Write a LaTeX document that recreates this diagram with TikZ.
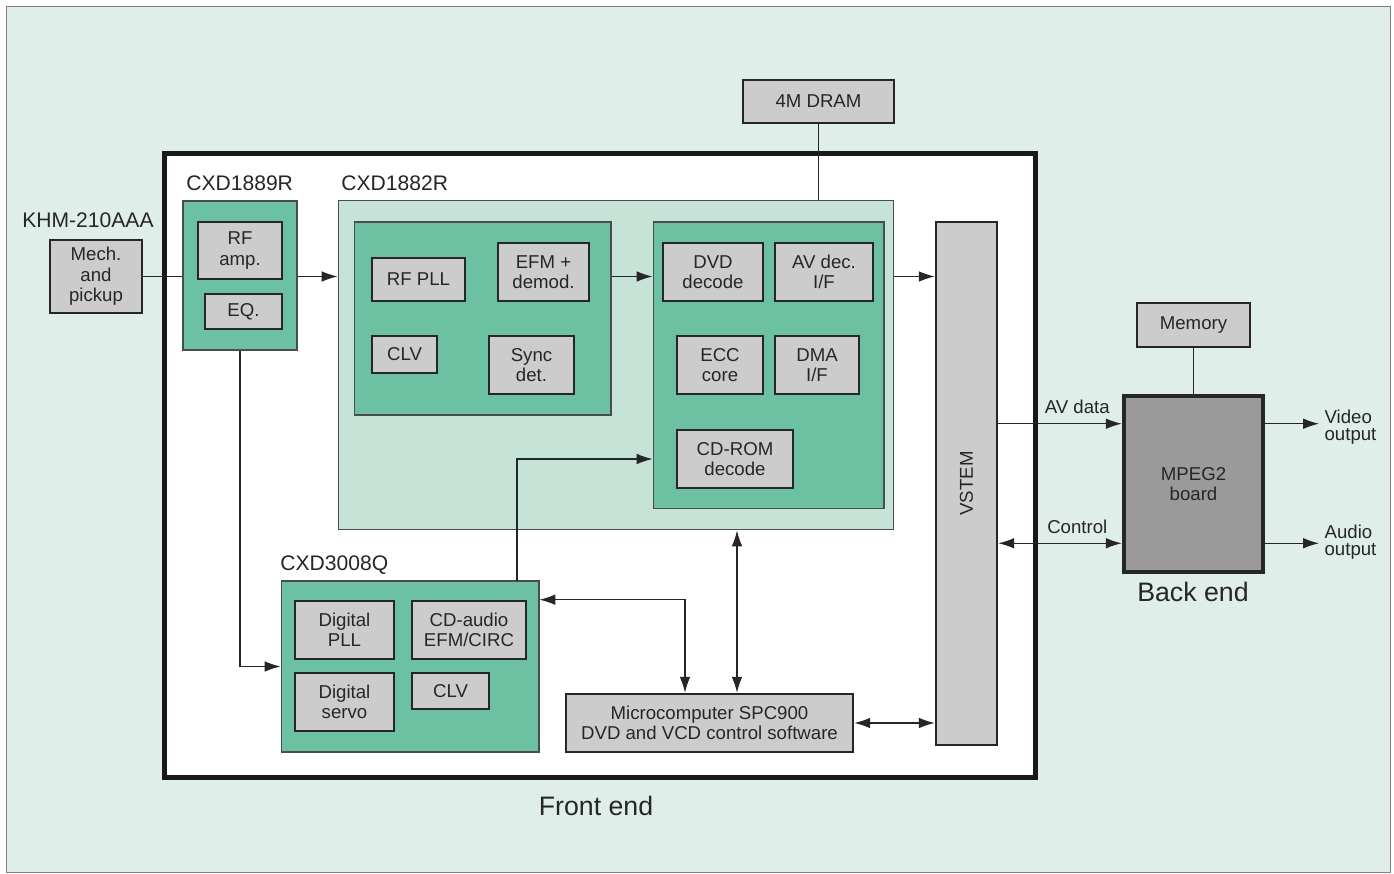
\documentclass[tikz,border=0pt]{standalone}
\usepackage{fontspec}
\setmainfont{Liberation Sans}
\usetikzlibrary{arrows.meta}
\definecolor{backdrop}{HTML}{E0EEE9}
\definecolor{chipgreen}{HTML}{6BC1A1}
\definecolor{dspgreen}{HTML}{C5E3D7}
\definecolor{boxgray}{HTML}{CCCCCC}
\definecolor{boardgray}{HTML}{9A9A9A}
\tikzset{
    gray-box/.style = {draw=black!85, fill=boxgray, line width=1.5pt, rectangle, align=center, inner sep=2pt, text=black!85, font=\fontsize{10.6}{11.6}\selectfont},
    chip-box/.style = {draw=black!70, fill=chipgreen, line width=0.6pt, rectangle},
    chip-title/.style = {anchor=west, inner sep=0pt, text=black!85, font=\fontsize{12}{14}\selectfont},
    big-title/.style = {text=black!85, font=\fontsize{15.2}{18}\selectfont},
    side-label/.style = {text=black!85, font=\fontsize{10.6}{10}\selectfont},
    link/.style = {draw=black!85, line width=0.6pt},
    arr/.style = {link, -{Latex[length=9pt,width=6pt]}},
    dbl/.style = {link, {Latex[length=9pt,width=6pt]}-{Latex[length=9pt,width=6pt]}},
}

\begin{document}
\begin{tikzpicture}[x=0.02cm, y=-0.02cm]
\useasboundingbox (0,0) rectangle (1394,874);
\draw[black!50, fill=backdrop, line width=0.5pt] (6,6) rectangle (1390,872);

% front end frame
\node[draw=black!90, fill=white, line width=2.8pt, minimum width=17.44cm, minimum height=12.5cm] (front) at (600,465.5) {};
\node[big-title] (frontlbl) at (596,806) {Front end};

% pickup
\node[chip-title] (khm) at (22,220) {KHM-210AAA};
\node[gray-box, minimum width=1.84cm, minimum height=1.46cm] (mech) at (96,276.5) {Mech.\\and\\pickup};

% CXD1889R
\node[chip-title] (cxd1889lbl) at (186,183) {CXD1889R};
\node[chip-box, minimum width=2.28cm, minimum height=2.98cm] (cxd1889) at (240,275.5) {};
\node[gray-box, minimum width=1.68cm, minimum height=1.14cm] (rfamp) at (240,250.5) {RF\\amp.};
\node[gray-box, minimum width=1.54cm, minimum height=0.70cm] (eq) at (243.5,311.5) {EQ.};

% CXD1882R
\node[chip-title] (cxd1882lbl) at (341,183) {CXD1882R};
\node[chip-box, fill=dspgreen, minimum width=11.12cm, minimum height=6.6cm] (cxd1882) at (616,365) {};
\node[chip-box, minimum width=5.14cm, minimum height=3.86cm] (lft) at (482.5,318.5) {};
\node[gray-box, minimum width=1.86cm, minimum height=0.86cm] (rfpll) at (418.5,279.5) {RF PLL};
\node[gray-box, minimum width=1.82cm, minimum height=1.16cm] (efm) at (543.5,272) {EFM +\\demod.};
\node[gray-box, minimum width=1.30cm, minimum height=0.74cm] (clv) at (404.5,354.5) {CLV};
\node[gray-box, minimum width=1.70cm, minimum height=1.16cm] (sync) at (531.5,365) {Sync\\det.};
\node[chip-box, minimum width=4.62cm, minimum height=5.74cm] (rgt) at (768.5,365.5) {};
\node[gray-box, minimum width=2.00cm, minimum height=1.16cm] (dvd) at (713,272) {DVD\\decode};
\node[gray-box, minimum width=1.96cm, minimum height=1.16cm] (avdec) at (824,272) {AV dec.\\I/F};
\node[gray-box, minimum width=1.72cm, minimum height=1.16cm] (ecc) at (720,365) {ECC\\core};
\node[gray-box, minimum width=1.68cm, minimum height=1.16cm] (dma) at (817,365) {DMA\\I/F};
\node[gray-box, minimum width=2.32cm, minimum height=1.16cm] (cdrom) at (735,459) {CD-ROM\\decode};

\node[gray-box, minimum width=3.02cm, minimum height=0.86cm] (dram) at (818.5,101.5) {4M DRAM};
\node[gray-box, minimum width=1.22cm, minimum height=10.46cm] (vstem) at (966.5,483.5) {};
\node[rotate=90, text=black!85, font=\fontsize{10.6}{11.6}\selectfont] (vstemlbl) at (vstem) {VSTEM};

% CXD3008Q
\node[chip-title] (cxd3008lbl) at (280,565) {CXD3008Q};
\node[chip-box, minimum width=5.16cm, minimum height=3.42cm] (cxd3008) at (410,666.5) {};
\node[gray-box, minimum width=1.98cm, minimum height=1.16cm] (dpll) at (344.5,630) {Digital\\PLL};
\node[gray-box, minimum width=2.28cm, minimum height=1.16cm] (cdaudio) at (469,630) {CD-audio\\EFM/CIRC};
\node[gray-box, minimum width=1.98cm, minimum height=1.16cm] (dservo) at (344.5,702) {Digital\\servo};
\node[gray-box, minimum width=1.54cm, minimum height=0.72cm] (clvb) at (450.5,691) {CLV};

\node[gray-box, minimum width=5.74cm, minimum height=1.16cm] (micro) at (709.5,723) {Microcomputer SPC900\\DVD and VCD control software};

% back end
\node[gray-box, minimum width=2.26cm, minimum height=0.88cm] (mem) at (1193.5,325) {Memory};
\node[gray-box, fill=boardgray, line width=2.6pt, minimum width=2.78cm, minimum height=3.52cm] (mpeg) at (1193.5,484) {MPEG2\\board};
\node[big-title] (backlbl) at (1193,592) {Back end};
\node[side-label, anchor=west, align=left, inner sep=3pt] (vidlbl) at (1319,427) {Video\\output};
\node[side-label, anchor=west, align=left, inner sep=3pt] (audlbl) at (1319,542) {Audio\\output};
\coordinate (avin) at ([yshift=-0.6cm]mpeg.north west);
\coordinate (ctlin) at ([yshift=0.62cm]mpeg.south west);
\coordinate (cdup) at (517,581);

% connectors
\draw[link] (mech.east) -- (mech.east -| cxd1889.west);
\draw[arr] (cxd1889.east |- mech.east) -- (cxd1882.west |- mech.east);
\draw[arr] (lft.east |- mech.east) -- (rgt.west |- mech.east);
\draw[arr] (cxd1882.east |- mech.east) -- (vstem.west |- mech.east);
\draw[link] (dram.south) -- (dram.south |- cxd1882.north);
\draw[arr] (cxd1889.south) |- (cxd3008.west);
\draw[arr] (cdup) |- (rgt.west |- cdrom.center);
\draw[dbl] (cxd3008.east |- dpll.north) -| ([xshift=-0.49cm]micro.north);
\draw[dbl] ([xshift=0.55cm]micro.north) -- ([xshift=0.55cm]micro.north |- cxd1882.south);
\draw[dbl] (micro.east) -- (micro.east -| vstem.west);
\draw[arr] (vstem.east |- avin) -- node[side-label, above=2pt, pos=0.64] {AV data} (avin);
\draw[dbl] (vstem.east |- ctlin) -- node[side-label, above=2pt, pos=0.64] {Control} (ctlin);
\draw[link] (mem.south) -- (mpeg.north);
\draw[arr] (mpeg.east |- avin) -- (vidlbl.west |- avin);
\draw[arr] (mpeg.east |- ctlin) -- (audlbl.west |- ctlin);
\end{tikzpicture}
\end{document}
